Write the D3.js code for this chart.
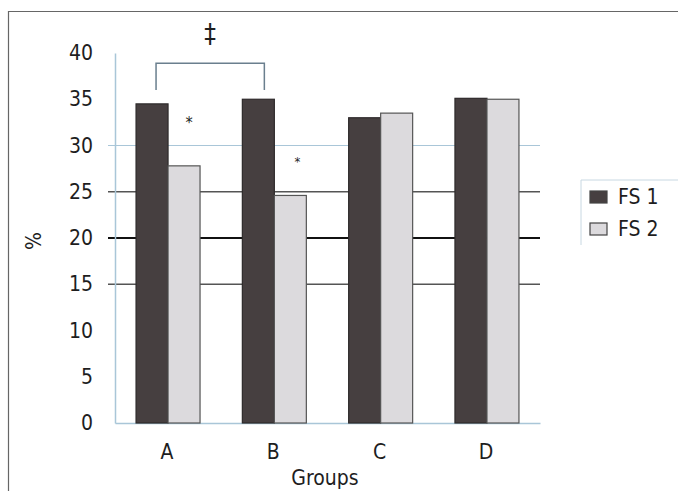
<!DOCTYPE html>
<html>
<head>
<meta charset="utf-8">
<script src="https://cdn.jsdelivr.net/npm/d3@7"></script>
<style>
  body { margin: 0; background: #fff; }
  svg text { font-family: "DejaVu Sans Condensed", "Liberation Sans Narrow", "Roboto", sans-serif; font-stretch: condensed; fill: #1e1e1e; }
</style>
</head>
<body>
<div id="root"></div>
<script>
const groups = ["A", "B", "C", "D"];
const series = ["FS 1", "FS 2"];
const fs1Values = [34.5, 35.0, 33.0, 35.1];
const fs2Values = [27.8, 24.6, 33.5, 35.0];
const yTicks = [0, 5, 10, 15, 20, 25, 30, 35, 40];
const gridValues = [15, 20, 25, 30];

const width = 678;
const height = 491;

var svg = d3.select("#root").append("svg")
  .attr("width", width)
  .attr("height", height);

// frame
svg.append("path")
  .attr("d", "M8.5," + height + "V11.5H" + width)
  .attr("fill", "none")
  .attr("stroke", "#666")
  .attr("stroke-width", 1.2);

var x = d3.scaleBand()
  .domain(groups)
  .range([115, 540])
  .paddingInner(0.398)
  .paddingOuter(0.198);

var x1 = d3.scaleBand()
  .domain(series)
  .range([0, x.bandwidth()]);

var y = d3.scaleLinear()
  .domain([0, 40])
  .range([423, 53]);

var color = d3.scaleOrdinal()
  .domain(series)
  .range(["#463f40", "#dcdadd"]);

// grid lines
function gridStyle(v) {
  if (v == 20) return { stroke: "#111", w: 2 };
  if (v == 30) return { stroke: "#a9c6d8", w: 1.2 };
  return { stroke: "#555", w: 1.3 };
}

svg.append("g").selectAll("line")
  .data(gridValues)
  .enter().append("line")
  .attr("x1", 108)
  .attr("x2", 540)
  .attr("y1", d => y(d))
  .attr("y2", d => y(d))
  .attr("stroke", d => gridStyle(d).stroke)
  .attr("stroke-width", d => gridStyle(d).w);

// y axis
var yAxis = d3.axisLeft(y)
  .tickValues(yTicks)
  .tickSize(0)
  .tickPadding(22);

var yAxisG = svg.append("g")
  .attr("transform", "translate(115,0)")
  .call(yAxis);
yAxisG.select(".domain").attr("stroke", "#a9c6d8").attr("stroke-width", 1.5);
yAxisG.selectAll("text").attr("font-size", 21).attr("fill", "#1e1e1e");

// x axis
var xAxis = d3.axisBottom(x).tickSize(0).tickPadding(21);
var xAxisG = svg.append("g")
  .attr("transform", "translate(0," + y(0) + ")")
  .call(xAxis);
xAxisG.select(".domain").attr("stroke", "#a9c6d8").attr("stroke-width", 1.5);
xAxisG.selectAll("text").attr("font-size", 21).attr("fill", "#1e1e1e")
  .attr("dx", -1);

// bars
var table = groups.map((g, i) => ({ group: g, values: [fs1Values[i], fs2Values[i]] }));

svg.append("g").selectAll("g")
  .data(table)
  .enter().append("g")
  .attr("transform", d => "translate(" + x(d.group) + ",0)")
  .selectAll("rect")
  .data(d => d.values.map((v, j) => ({ key: series[j], value: v })))
  .enter().append("rect")
  .attr("x", d => x1(d.key))
  .attr("y", d => y(d.value))
  .attr("width", x1.bandwidth())
  .attr("height", d => y(0) - y(d.value))
  .attr("fill", d => color(d.key))
  .attr("stroke", d => d.key == "FS 1" ? "#2e2a2b" : "#555")
  .attr("stroke-width", 1.2);

// significance marks
svg.append("path")
  .attr("d", "M" + (x("A") + 20) + "," + y(36.0) + "V" + y(38.9) + "H" + (x("B") + 22) + "V" + y(36.0))
  .attr("fill", "none")
  .attr("stroke", "#6a7f8e")
  .attr("stroke-width", 1.5);

svg.append("text")
  .attr("x", (x("A") + x("B") + 42) / 2)
  .attr("y", 43)
  .attr("text-anchor", "middle")
  .attr("font-size", 26)
  .attr("fill", "#6a7f8e")
  .text("‡");

svg.append("text")
  .attr("x", x("A") + x1("FS 2") + x1.bandwidth() / 2 + 5)
  .attr("y", y(fs2Values[0]) - 38)
  .attr("text-anchor", "middle")
  .attr("font-size", 16)
  .attr("fill", "#4c5a66")
  .text("*");

svg.append("text")
  .attr("x", x("B") + x1("FS 2") + x1.bandwidth() / 2 + 7)
  .attr("y", y(fs2Values[1]) - 29)
  .attr("text-anchor", "middle")
  .attr("font-size", 13)
  .attr("fill", "#4c5a66")
  .text("*");

// axis titles
svg.append("text")
  .attr("transform", "translate(41,241) rotate(-90)")
  .attr("text-anchor", "middle")
  .attr("font-size", 21)
  .text("%");

svg.append("text")
  .attr("x", 325)
  .attr("y", 485)
  .attr("text-anchor", "middle")
  .attr("font-size", 21)
  .text("Groups");

// legend
var legend = svg.append("g").attr("transform", "translate(581,180)");
legend.append("path")
  .attr("d", "M0,65V0H97")
  .attr("fill", "none")
  .attr("stroke", "#c8d8e2")
  .attr("stroke-width", 1);

var item = legend.selectAll("g.item")
  .data(series)
  .enter().append("g")
  .attr("class", "item")
  .attr("transform", (d, i) => "translate(0," + (i * 32) + ")");

item.append("rect")
  .attr("x", 9)
  .attr("y", 11)
  .attr("width", 17)
  .attr("height", 12)
  .attr("fill", d => color(d))
  .attr("stroke", "#444")
  .attr("stroke-width", 1.2);

item.append("text")
  .attr("x", 37)
  .attr("y", 24)
  .attr("font-size", 21)
  .text(d => d);
</script>
</body>
</html>
